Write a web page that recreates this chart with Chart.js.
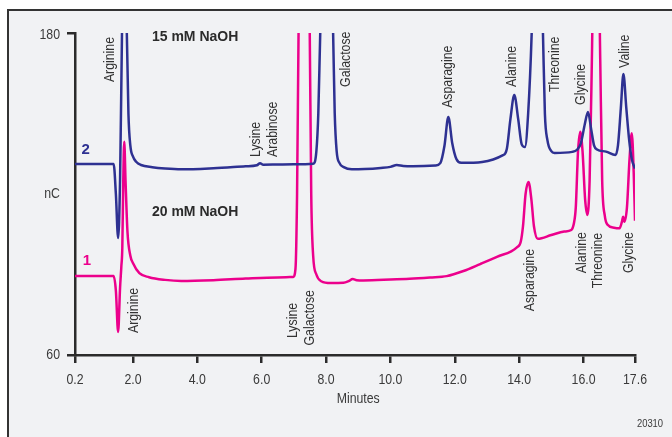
<!DOCTYPE html>
<html lang="en">
<head>
  <meta charset="UTF-8">
  <title>Amino acids and sugars at 15 and 20 mM NaOH</title>
  <script src="https://cdn.jsdelivr.net/npm/chart.js"></script>
  <style>
    html, body {
      margin: 0;
      background: #fff;
      overflow: hidden;
    }
    #panel {
      position: absolute;
      left: 7px;
      top: 9px;
      width: 700px;
      height: 470px;
      border-top: 2px solid #333;
      border-left: 2px solid #333;
      background: #f1f2f4;
    }
    #wrap {
      position: absolute;
      left: 0;
      top: 0;
      width: 672px;
      height: 437px;
    }
  </style>
</head>
<body>

<div id="panel"></div>
<div id="wrap"><canvas id="chrom" width="672" height="437"></canvas></div>

<script>
  // axis ticks
  const minuteTicks = [0.2, 2, 4, 6, 8, 10, 12, 14, 16, 17.6];
  const ncTicks = [60, 120, 180];

  // trace 2: 15 mM NaOH  [minutes, nC]
  const trace15 = [
    [0.2, 131.2], [1.40, 131.2], [1.47, 120], [1.54, 103.6], [1.60, 125], [1.66, 180],
    [1.74, 240], [1.81, 180], [1.86, 150], [1.92, 138], [2.0, 134], [2.1, 132],
    [2.25, 130.8], [2.6, 130], [3.0, 129.5], [3.5, 129.2], [4.5, 129.6], [5.5, 130.3],
    [5.85, 130.7], [5.95, 131.5], [6.05, 130.9], [6.5, 131], [7.0, 131.1], [7.6, 131.3],
    [7.70, 136], [7.76, 150], [7.82, 180], [8.02, 260], [8.22, 180], [8.27, 150],
    [8.33, 136], [8.42, 131.5], [8.55, 130], [8.8, 129.2], [9.2, 129.3], [9.7, 129.7],
    [10.0, 130.1], [10.2, 130.8], [10.4, 130.4], [10.7, 130.3], [11.4, 130.6],
    [11.55, 131.5], [11.68, 138], [11.80, 148.7], [11.92, 139], [12.05, 133], [12.2, 131.6],
    [13.5, 134.5], [13.62, 137], [13.73, 148], [13.85, 156.9], [13.97, 148], [14.08, 138.5],
    [14.18, 137.5], [14.28, 150], [14.39, 180], [14.56, 260], [14.74, 180], [14.8, 150],
    [14.88, 140], [15.0, 136], [15.1, 135.3], [15.65, 135.7], [15.8, 136.5], [15.92, 139],
    [16.04, 146], [16.14, 150.6], [16.24, 144], [16.33, 138], [16.42, 136.6], [16.7, 135.8],
    [16.99, 134.5], [17.07, 138], [17.16, 152], [17.24, 164.7], [17.33, 152], [17.42, 140],
    [17.5, 133], [17.6, 129.5]
  ];

  // trace 1: 20 mM NaOH  [minutes, nC]
  const trace20 = [
    [0.2, 89.4], [1.40, 89.4], [1.47, 84], [1.54, 68.6], [1.60, 85], [1.64, 93],
    [1.67, 100], [1.70, 125], [1.73, 139.5], [1.77, 125], [1.83, 106], [1.92, 97],
    [2.0, 94.3], [2.2, 90.5], [2.5, 89], [3.0, 88], [3.5, 87.6], [4.5, 87.9], [5.5, 88.5],
    [6.5, 88.9], [6.98, 89.1], [7.05, 92], [7.1, 120], [7.15, 185], [7.32, 280],
    [7.49, 185], [7.54, 120], [7.6, 97], [7.7, 90], [7.85, 87.5], [8.15, 86.8],
    [8.54, 86.9], [8.7, 87.5], [8.83, 88.3], [8.95, 87.9], [9.16, 87.8], [10.0, 88.1],
    [10.6, 88.4], [11.23, 88.9], [11.75, 89.4], [12.27, 91.3], [12.79, 93.9], [13.31, 96.6],
    [13.93, 100.1], [14.05, 102.2], [14.12, 108], [14.2, 120], [14.29, 124.5], [14.38, 118],
    [14.46, 108], [14.58, 103.3], [15.0, 104.7], [15.4, 106], [15.62, 106.6], [15.70, 109],
    [15.76, 115], [15.83, 136], [15.9, 143.2], [15.97, 136], [16.05, 118], [16.12, 112.2],
    [16.19, 125], [16.26, 170], [16.39, 270], [16.52, 170], [16.58, 125], [16.66, 112],
    [16.75, 108.5], [16.95, 107.4], [17.12, 107.2], [17.2, 110], [17.23, 111.5],
    [17.27, 109.7], [17.35, 115], [17.43, 133], [17.5, 142.6], [17.56, 128], [17.6, 110]
  ];

  // peak names: [name, minutes, nC where the text starts]
  const peaks15 = [
    ['Arginine', 1.28, 161.7], ['Lysine', 5.82, 133.8], ['Arabinose', 6.35, 133.8],
    ['Galactose', 8.62, 159.9], ['Asparagine', 11.79, 152.1], ['Alanine', 13.78, 159.9],
    ['Threonine', 15.12, 158.0], ['Glycine', 15.93, 153.2], ['Valine', 17.30, 167.0]
  ];
  // peak names: [name, minutes, nC where the text ends]
  const peaks20 = [
    ['Arginine', 2.03, 85.0], ['Lysine', 6.97, 79.4], ['Galactose', 7.50, 84.2],
    ['Asparagine', 14.34, 99.5], ['Alanine', 15.96, 105.8], ['Threonine', 16.46, 105.5],
    ['Glycine', 17.42, 105.8]
  ];

  const BLUE = '#2e3192';
  const PINK = '#ec008c';
  const INK = '#2b2b2b';
  const SANS = '"Liberation Sans", Arial, sans-serif';
  const SQUEEZE = 0.82;   // condensed look from a regular face

  const toPoints = arr => arr.map(([t, v]) => ({ x: t, y: v }));

  // draws text squeezed along its own direction, optionally turned upward
  function narrowText(ctx, str, px, py, align, up) {
    ctx.save();
    ctx.translate(px, py);
    if (up) ctx.rotate(-Math.PI / 2);
    ctx.scale(SQUEEZE, 1);
    ctx.textAlign = align;
    ctx.fillText(str, 0, 0);
    ctx.restore();
  }

  // tick labels, trace numbers, eluent captions and peak names
  const annotate = {
    id: 'annotate',
    afterDatasetsDraw(chart) {
      const { ctx, scales: { x, y } } = chart;
      ctx.save();
      ctx.textBaseline = 'middle';

      // tick labels
      ctx.font = '15px ' + SANS;
      ctx.fillStyle = '#3a3a3a';
      x.ticks.forEach(t => {
        narrowText(ctx, t.value.toFixed(1), x.getPixelForValue(t.value), 380, 'center');
      });
      y.ticks.forEach(t => {
        const label = t.value === 120 ? 'nC' : String(t.value);
        const py = y.getPixelForValue(t.value) + (t.value === 180 ? 2 : 0);
        narrowText(ctx, label, 60, py, 'right');
      });
      narrowText(ctx, 'Minutes', x.getPixelForValue(9.0), 399, 'center');

      ctx.font = '11.5px ' + SANS;
      narrowText(ctx, '20310', 650, 424, 'center');

      // eluent captions
      ctx.font = 'bold 14px ' + SANS;
      ctx.textAlign = 'left';
      ctx.fillStyle = INK;
      ctx.fillText('15 mM NaOH', x.getPixelForValue(2.59), y.getPixelForValue(178.5));
      ctx.fillText('20 mM NaOH', x.getPixelForValue(2.59), y.getPixelForValue(113.3));

      // trace numbers
      ctx.font = 'bold 15px ' + SANS;
      ctx.textAlign = 'center';
      ctx.fillStyle = BLUE;
      ctx.fillText('2', x.getPixelForValue(0.53), y.getPixelForValue(136.4));
      ctx.fillStyle = PINK;
      ctx.fillText('1', x.getPixelForValue(0.57), y.getPixelForValue(95));

      // peak names
      ctx.font = '15px ' + SANS;
      ctx.fillStyle = '#333';
      peaks15.forEach(([n, t, v]) =>
        narrowText(ctx, n, x.getPixelForValue(t), y.getPixelForValue(v), 'left', true));
      peaks20.forEach(([n, t, v]) =>
        narrowText(ctx, n, x.getPixelForValue(t), y.getPixelForValue(v), 'right', true));

      ctx.restore();
    }
  };

  new Chart(document.getElementById('chrom'), {
    type: 'line',
    data: {
      datasets: [
        {
          label: '2',
          data: toPoints(trace15),
          borderColor: BLUE,
          borderWidth: 2.5,
          pointRadius: 0,
          cubicInterpolationMode: 'monotone'
        },
        {
          label: '1',
          data: toPoints(trace20),
          borderColor: PINK,
          borderWidth: 2.5,
          pointRadius: 0,
          cubicInterpolationMode: 'monotone'
        }
      ]
    },
    options: {
      responsive: false,
      animation: false,
      devicePixelRatio: 1,
      layout: { padding: { left: 0, top: 33, right: 37, bottom: 0 } },
      plugins: { legend: { display: false }, tooltip: { enabled: false } },
      scales: {
        x: {
          type: 'linear',
          min: 0.2,
          max: 17.6,
          afterBuildTicks: s => { s.ticks = minuteTicks.map(v => ({ value: v })); },
          afterFit: s => { s.height = 82; },
          border: { display: true, color: INK, width: 2.5 },
          grid: { drawOnChartArea: false, drawTicks: true, tickLength: 8, color: INK, lineWidth: 2.5 },
          ticks: { display: false }
        },
        y: {
          min: 60,
          max: 180,
          afterBuildTicks: s => { s.ticks = ncTicks.map(v => ({ value: v })); },
          afterFit: s => { s.width = 75; },
          border: { display: true, color: INK, width: 2.5 },
          grid: {
            drawOnChartArea: false,
            drawTicks: true,
            tickLength: 8,
            lineWidth: 2.5,
            color: c => (c.tick && c.tick.value === 120) ? 'rgba(0,0,0,0)' : INK
          },
          ticks: { display: false }
        }
      }
    },
    plugins: [annotate]
  });
</script>

</body>
</html>
